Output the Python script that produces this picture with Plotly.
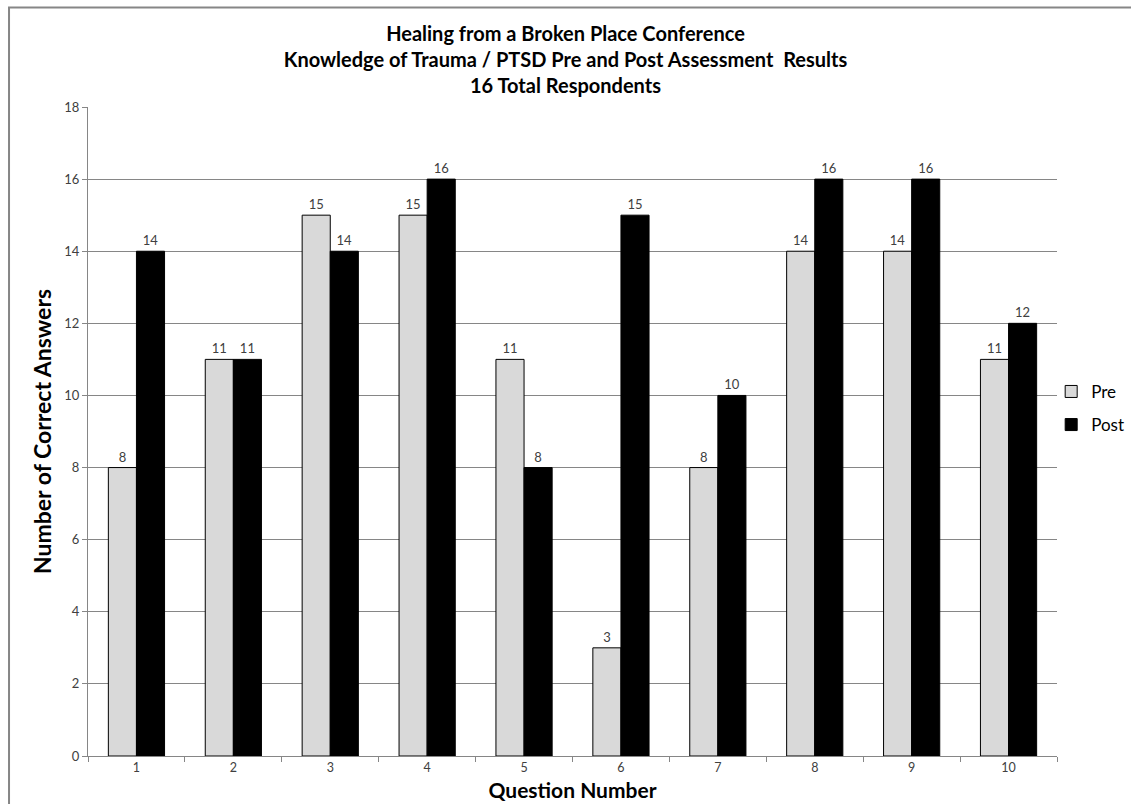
import plotly.graph_objects as go

questions = ["1", "2", "3", "4", "5", "6", "7", "8", "9", "10"]
pre = [8, 11, 15, 15, 11, 3, 8, 14, 14, 11]
post = [14, 11, 14, 16, 8, 15, 10, 16, 16, 12]

FONT = "Lato, 'Open Sans', sans-serif"

fig = go.Figure()
fig.add_trace(go.Bar(name="Pre", x=questions, y=pre, text=pre, textposition="outside",
                     marker=dict(color="#d9d9d9", line=dict(color="#000000", width=1)),
                     textfont=dict(size=13, color="#404040", family=FONT), cliponaxis=False,
                     legend="legend"))
fig.add_trace(go.Bar(name="Post", x=questions, y=post, text=post, textposition="outside",
                     marker=dict(color="#000000", line=dict(color="#000000", width=1)),
                     textfont=dict(size=13, color="#404040", family=FONT), cliponaxis=False,
                     legend="legend2"))

legend_style = dict(xanchor="left", yanchor="middle", bgcolor="rgba(0,0,0,0)",
                    font=dict(size=17, family=FONT, color="#000000"))

fig.update_layout(
    width=1131, height=804,
    margin=dict(l=88, r=74, t=107, b=48, autoexpand=False),
    paper_bgcolor="white", plot_bgcolor="white",
    barmode="group", bargap=0.42, bargroupgap=0,
    font=dict(family=FONT, color="#000000"),
    title=dict(text="<b>Healing from a Broken Place Conference<br>Knowledge of Trauma / PTSD Pre and Post Assessment  Results<br>16 Total Respondents</b>",
               x=0.5, xanchor="center", xref="container", y=0.949, yref="container", yanchor="top",
               font=dict(size=20, family=FONT, color="#000000")),
    legend=dict(x=0.994, y=0.561, **legend_style),
    legend2=dict(x=0.994, y=0.510, **legend_style),
    showlegend=True,
    xaxis=dict(title=dict(text="<b>Question Number</b>", font=dict(size=21, family=FONT), standoff=9),
               type="category", tickson="boundaries", ticks="outside", ticklen=5,
               tickcolor="#868686", showline=True, linecolor="#868686", linewidth=1,
               tickfont=dict(size=12.5, color="#404040"), showgrid=False),
    yaxis=dict(title=dict(text="<b>Number of Correct Answers</b>", font=dict(size=23, family=FONT), standoff=6),
               range=[0, 18], dtick=2, ticks="outside", ticklen=5, tickcolor="#868686",
               showline=True, linecolor="#868686", linewidth=1,
               showgrid=True, gridcolor="#868686", gridwidth=1,
               tickfont=dict(size=13, color="#404040"), zeroline=False),
    shapes=[dict(type="rect", xref="paper", yref="paper", x0=-0.0815, y0=-0.2, x1=1.2, y1=1.1533,
                 line=dict(color="#868686", width=2), fillcolor="rgba(0,0,0,0)", layer="below")],
)

fig.write_html("out.html", config={"displayModeBar": False},
               post_script="document.body.style.margin='0px';")
